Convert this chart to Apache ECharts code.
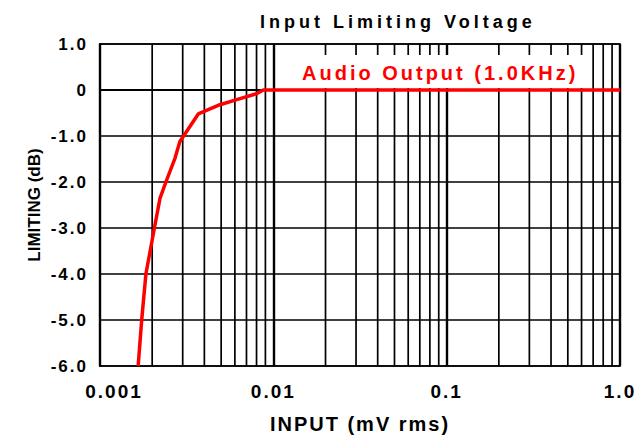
<!DOCTYPE html>
<html><head><meta charset="utf-8">
<script src="https://cdn.jsdelivr.net/npm/echarts@6/dist/echarts.min.js"></script>
<style>
html,body{margin:0;padding:0;background:#fff;}
#chart{width:637px;height:436px;}
#chart text[style*="spA"]{letter-spacing:4px;}
#chart text[style*="spB"]{letter-spacing:3px;}
#chart text[style*="spC"]{letter-spacing:2px;}
</style></head><body><div id="chart"></div>
<script>
// Data
const inputMv    = [0.00166, 0.00174, 0.00184, 0.00206, 0.00222, 0.0024, 0.00271, 0.00289, 0.00369, 0.00492, 0.00615, 0.0080, 0.00875, 1.0];
const limitingDb = [-6.0,    -5.0,    -4.0,    -3.0,    -2.35,   -2.0,   -1.48,   -1.12,   -0.52,   -0.32,   -0.21,   -0.08,  0.0,     0.0];
const xTickLabels = ['0.001', '0.01', '0.1', '1.0'];
const yTickLabels = ['-6.0', '-5.0', '-4.0', '-3.0', '-2.0', '-1.0', '0', '1.0'];
const seriesName = 'Audio Output (1.0KHz)';
const chartTitle = 'Input Limiting Voltage';
const xTitle = 'INPUT (mV rms)';
const yTitle = 'LIMITING (dB)';
const decadeStarts = [0.001, 0.01, 0.1];
const minorMultipliers = [2, 3, 4, 5, 6, 7, 8, 9];
const Y_MIN = -6, Y_MAX = 1;

const minorGrid = [];
decadeStarts.forEach(d => minorMultipliers.forEach(k => minorGrid.push([+(d * k).toPrecision(3), Y_MIN, Y_MAX])));

const FONT_TITLE = 'Liberation Sans, spA';
const FONT_LEGEND = 'Liberation Sans, spB';
const FONT_LABEL = 'Liberation Sans, spC';
const FONT_YTITLE = 'Liberation Sans';

const chart = echarts.init(document.getElementById('chart'), null, {renderer: 'svg'});
chart.setOption({
  animation: false,
  backgroundColor: '#fff',
  title: {
    text: chartTitle, left: 260, top: 13, padding: 0,
    textStyle: {fontFamily: FONT_TITLE, fontSize: 18, fontWeight: 'bold', color: '#000'}
  },
  legend: {
    data: [{name: seriesName, icon: 'none'}],
    left: 276, top: 55, itemWidth: 0, itemHeight: 14,
    padding: [8, 69, 5, 21],
    backgroundColor: '#fff',
    selectedMode: false,
    textStyle: {fontFamily: FONT_LEGEND, fontSize: 20, fontWeight: 'bold', color: '#ff0000'}
  },
  grid: {left: 100, right: 17, top: 44, bottom: 70, containLabel: false, outerBoundsMode: 'none',
         show: true, borderColor: '#000', borderWidth: 1.7, backgroundColor: 'transparent'},
  xAxis: {
    type: 'log', logBase: 10, min: 0.001, max: 1,
    name: xTitle, nameLocation: 'middle', nameGap: 48,
    nameTextStyle: {fontFamily: FONT_LABEL, fontSize: 20, fontWeight: 'bold', color: '#000'},
    axisLine: {show: true, lineStyle: {color: '#000', width: 2}},
    axisTick: {show: false},
    splitLine: {show: true, lineStyle: {color: '#000', width: 2.4}},
    axisLabel: {
      margin: 16, fontFamily: FONT_LABEL, fontSize: 19, fontWeight: 'bold', color: '#000',
      formatter: v => {
        const i = Math.round(Math.log10(v)) + 3;
        return i === 0 ? '{first|' + xTickLabels[i] + '}' : xTickLabels[i];
      },
      rich: {first: {fontFamily: FONT_LABEL, fontSize: 19, fontWeight: 'bold', color: '#000', padding: [0, 0, 0, 28]}}
    }
  },
  yAxis: {
    type: 'value', min: Y_MIN, max: Y_MAX, interval: 1,
    name: yTitle, nameLocation: 'middle', nameGap: 57, nameRotate: 90,
    nameTextStyle: {fontFamily: FONT_YTITLE, fontSize: 17, fontWeight: 'bold', color: '#000'},
    axisLine: {show: true, lineStyle: {color: '#000', width: 2}},
    axisTick: {show: false},
    splitLine: {show: true, lineStyle: {color: '#000', width: 1.7}},
    axisLabel: {
      margin: 12, fontFamily: FONT_LABEL, fontSize: 17, fontWeight: 'bold', color: '#000',
      formatter: v => yTickLabels[Math.round(v) + 6]
    }
  },
  series: [
    {
      name: 'grid-minor', type: 'custom', z: 1, silent: true,
      encode: {x: 0, y: [1, 2]},
      data: minorGrid,
      renderItem: (params, api) => {
        const p1 = api.coord([api.value(0), api.value(1)]);
        const p2 = api.coord([api.value(0), api.value(2)]);
        return {type: 'line', shape: {x1: p1[0], y1: p1[1], x2: p2[0], y2: p2[1]},
                style: {stroke: '#000', lineWidth: 1.7}};
      }
    },
    {
      name: seriesName, type: 'line', z: 3,
      data: inputMv.map((x, i) => [x, limitingDb[i]]),
      showSymbol: false, symbol: 'none',
      lineStyle: {color: '#ff0000', width: 3.5},
      itemStyle: {color: '#ff0000'}
    }
  ]
});
</script></body></html>
